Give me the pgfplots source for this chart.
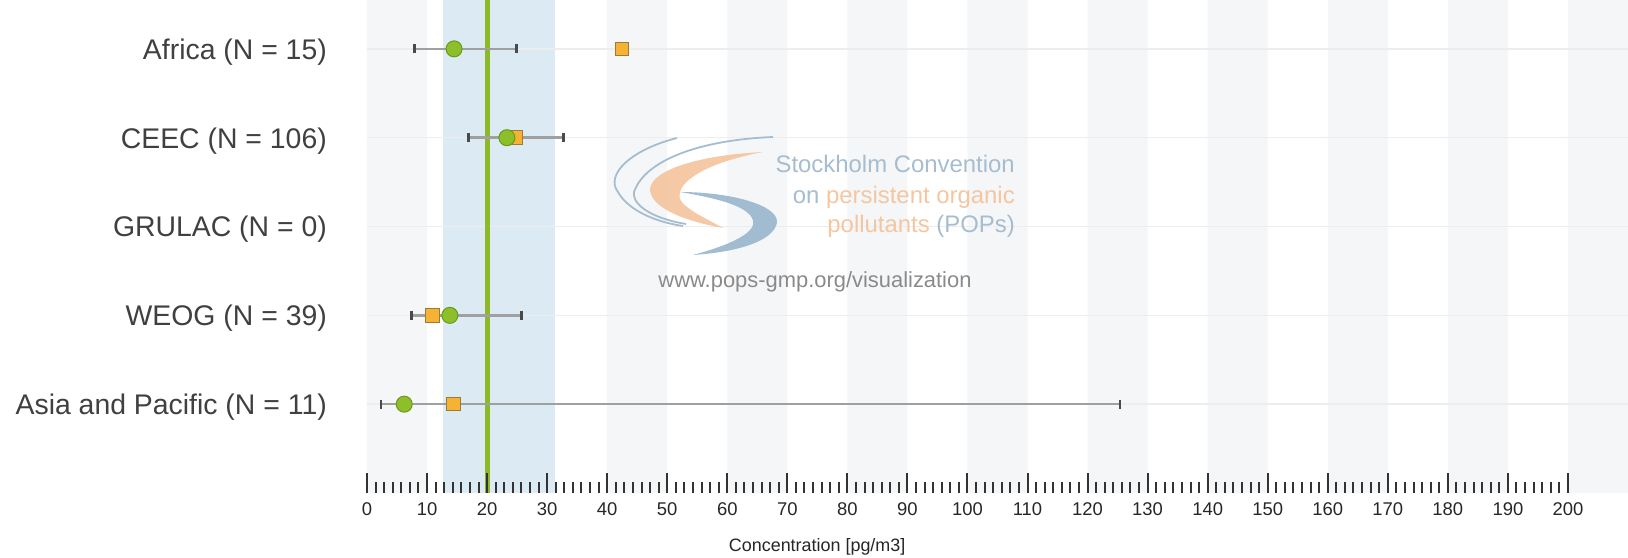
\documentclass[border=0pt]{standalone}
\usepackage{pgfplots}
\pgfplotsset{compat=1.18}
\usepackage{graphicx}
\usepackage{fontspec}
\setmainfont{Liberation Sans}
\definecolor{stripe}{HTML}{F5F6F8}
\definecolor{band}{HTML}{DCEAF4}
\definecolor{greenline}{HTML}{8DB828}
\definecolor{gridl}{HTML}{EDEDED}
\definecolor{errline}{HTML}{A0A0A0}
\definecolor{capc}{HTML}{4A4A4A}
\definecolor{tickc}{HTML}{333333}
\definecolor{cfill}{HTML}{8DBF2B}
\definecolor{cedge}{HTML}{6A9A1A}
\definecolor{sfill}{HTML}{F6B232}
\definecolor{sedge}{HTML}{9B7A3A}
\definecolor{labc}{HTML}{404040}
\definecolor{wmblue}{HTML}{A6BDD0}
\definecolor{wmswoosh}{HTML}{9DB8CF}
\definecolor{wmorange}{HTML}{F4C6A0}
\definecolor{wmgrey}{HTML}{8A8A8A}
\begin{document}
\begin{tikzpicture}
\useasboundingbox (-367bp,-65bp) rectangle (1261bp,493bp);
\begin{axis}[
  at={(0,0)}, anchor=south west,
  scale only axis, width=1261bp, height=493bp,
  xmin=0, xmax=210, ymin=0, ymax=5.55,
  axis on top,
  axis x line=bottom, axis y line=left,
  axis line style={draw=none},
  xtick={0,10,...,200}, minor tick num=6,
  tick align=inside,
  major tick length=20bp, minor tick length=11bp,
  x tick style={draw=tickc, line width=2bp},
  ytick={1,2,3,4,5},
  yticklabels={Asia and Pacific (N = 11), WEOG (N = 39), GRULAC (N = 0), CEEC (N = 106), Africa (N = 15)},
  y tick style={draw=none},
  yticklabel style={font=\fontsize{28.5}{31}\selectfont, text=labc, anchor=east, inner sep=0pt, xshift=-40bp, yshift=-3bp},
  /pgf/number format/assume math mode=true,
  xticklabel style={font=\fontsize{18.5}{20}\selectfont, text=black!85, anchor=north, inner sep=0pt, yshift=-9bp},
  xlabel={Concentration [pg/m3]},
  xlabel style={font=\fontsize{18}{20}\selectfont, text=black!85, at={(axis description cs:0.357,-0.1095)}, anchor=center},
  clip=true,
]
% background stripes
\addplot[ybar interval, fill=stripe, draw=none] coordinates {
 (0,5.55)(10,0)(20,5.55)(30,0)(40,5.55)(50,0)(60,5.55)(70,0)(80,5.55)(90,0)(100,5.55)
 (110,0)(120,5.55)(130,0)(140,5.55)(150,0)(160,5.55)(170,0)(180,5.55)(190,0)(200,5.55)(210,0)};
% blue band
\addplot[fill=band, draw=none] coordinates {(12.7,5.55)(31.3,5.55)} \closedcycle;
% horizontal grid lines
\addplot[gridl, line width=1.5bp] coordinates {(0,1)(210,1)};
\addplot[gridl, line width=1.5bp] coordinates {(0,2)(210,2)};
\addplot[gridl, line width=1.5bp] coordinates {(0,3)(210,3)};
\addplot[gridl, line width=1.5bp] coordinates {(0,4)(210,4)};
\addplot[gridl, line width=1.5bp] coordinates {(0,5)(210,5)};
% reference line
\addplot[greenline, line width=5bp] coordinates {(20,0)(20,5.55)};
% ranges
\addplot[errline, line width=2.5bp, mark=|, mark options={capc, line width=2.5bp, mark size=4.5bp}] coordinates {(7.9,5)(24.9,5)};
\addplot[errline, line width=2.5bp, mark=|, mark options={capc, line width=2.5bp, mark size=4.5bp}] coordinates {(16.9,4)(32.7,4)};
\addplot[errline, line width=2.5bp, mark=|, mark options={capc, line width=2.5bp, mark size=4.5bp}] coordinates {(7.4,2)(25.7,2)};
\addplot[errline, line width=2.5bp, mark=|, mark options={capc, line width=2.5bp, mark size=4.5bp}] coordinates {(2.3,1)(125.4,1)};
% squares
\addplot[only marks, mark=square*, mark size=6.7bp, mark options={fill=sfill, draw=sedge, line width=1bp}] coordinates {(42.5,5)(24.7,4)(10.9,2)(14.4,1)};
% circles
\addplot[only marks, mark=*, mark size=8bp, mark options={fill=cfill, draw=cedge, line width=1bp}] coordinates {(14.5,5)(23.3,4)(13.8,2)(6.2,1)};
\end{axis}
% watermark (pixel coordinates of the reference)
\begin{scope}[shift={(-367bp,493bp)}, x=1bp, y=-1bp]
\draw[wmblue, line width=1.8bp] (677,138) .. controls (630,150) and (605,175) .. (618,192) .. controls (628,210) and (655,222) .. (683,226);
\draw[wmblue, line width=1.8bp] (773,137) .. controls (700,140) and (645,160) .. (634,192) .. controls (632,208) and (660,220) .. (686,224);
\fill[wmorange, opacity=0.95] (763,152) .. controls (700,155) and (650,170) .. (650,190) .. controls (652,210) and (690,222) .. (723,228) .. controls (700,215) and (675,205) .. (680,192) .. controls (685,175) and (720,160) .. (763,152) -- cycle;
\fill[wmswoosh, opacity=0.95] (680,192) .. controls (730,192) and (778,205) .. (777,222) .. controls (775,240) and (740,252) .. (693,255) .. controls (730,245) and (760,232) .. (752,218) .. controls (745,205) and (715,198) .. (680,192) -- cycle;
\node[anchor=base east, inner sep=0pt, font=\fontsize{24}{26}\selectfont, text=wmblue] at (1015,173) {Stockholm Convention};
\node[anchor=base east, inner sep=0pt, font=\fontsize{24}{26}\selectfont, text=wmorange] at (1015,204) {\textcolor{wmblue}{on} persistent organic};
\node[anchor=base east, inner sep=0pt, font=\fontsize{24}{26}\selectfont, text=wmorange] at (1015,233) {pollutants \textcolor{wmblue}{(POPs)}};
\node[anchor=center, inner sep=0pt, font=\fontsize{22}{24}\selectfont, text=wmgrey] at (815,282) {www.pops-gmp.org/visualization};
\end{scope}
\end{tikzpicture}
\end{document}
